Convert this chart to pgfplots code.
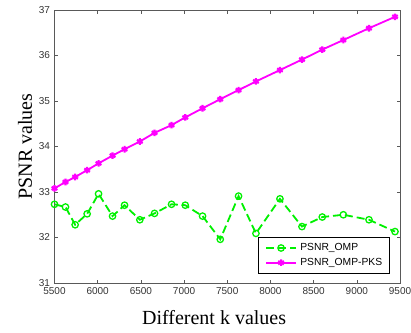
\documentclass[border=0pt]{standalone}
\usepackage{pgfplots}
\pgfplotsset{compat=1.18}
\usepackage{fontspec}
\setmainfont{Liberation Serif}
\newfontfamily\arial{Liberation Sans}
\definecolor{mgreen}{RGB}{0,240,0}
\definecolor{mmag}{RGB}{255,0,255}
\begin{document}
\begin{tikzpicture}
\begin{axis}[
  name=ax,
  scale only axis,
  width=345.5pt, height=273pt,
  xmin=5500, xmax=9500, ymin=31, ymax=37,
  xtick={5500,6000,...,9500}, ytick={31,32,...,37},
  scaled x ticks=false,
  /pgf/number format/1000 sep={},
  /pgf/number format/assume math mode=true,
  tick align=inside,
  major tick length=3.5pt,
  every tick/.style={black!65, line width=0.6pt},
  axis line style={black!65, line width=0.6pt},
  tick label style={font=\arial\fontsize{10}{12}\selectfont, text=black!80, inner sep=0pt},
  xticklabel style={yshift=-4.6pt},
  yticklabel style={xshift=-4.4pt},
  clip=false,
  xlabel={Different k values},
  ylabel={PSNR values},
  label style={font=\fontsize{20}{24}\selectfont},
  xlabel style={at={(axis description cs:0.462,-0.1537)}, anchor=base},
  ylabel style={at={(axis description cs:-0.0658,0.5)}, anchor=base},
  legend style={at={(axis description cs:0.9696,0.0330)}, anchor=south east,
    draw=black, line width=0.6pt, fill=white,
    font=\arial\fontsize{10.3}{12}\selectfont,
    inner xsep=7pt, inner ysep=6pt, row sep=4.7pt, column sep=3.4pt,
    nodes={inner sep=0pt, text height=7.5pt, text depth=2.5pt}},
  legend cell align=left,
  legend image code/.code={\draw[mark repeat=2,mark phase=2] plot coordinates {(0pt,0pt) (15pt,0pt) (30pt,0pt)};},
]
\addplot[mgreen, line width=1.8pt, dash pattern=on 8pt off 4pt,
  mark=o, mark size=3.2pt, mark options={solid, line width=1.3pt}]
  coordinates {
  (5500,32.73) (5627,32.67) (5739,32.28) (5878,32.52) (6010,32.96)
  (6172,32.47) (6311,32.71) (6488,32.39) (6658,32.53) (6855,32.73)
  (7014,32.71) (7214,32.47) (7419,31.96) (7631,32.91) (7832,32.09)
  (8110,32.85) (8365,32.24) (8600,32.45) (8844,32.50) (9141,32.39)
  (9442,32.13)};
\addlegendentry{PSNR\_OMP}
\addplot[mmag, line width=1.8pt, mark=asterisk, mark size=3.3pt,
  mark options={solid, line width=2.1pt}]
  coordinates {
  (5500,33.08) (5627,33.22) (5739,33.33) (5878,33.48) (6010,33.63)
  (6172,33.80) (6311,33.94) (6488,34.11) (6658,34.30) (6855,34.47)
  (7014,34.64) (7214,34.84) (7419,35.04) (7631,35.24) (7832,35.43)
  (8110,35.68) (8365,35.91) (8600,36.13) (8844,36.34) (9141,36.60)
  (9442,36.85)};
\addlegendentry{PSNR\_OMP-PKS}
\end{axis}
\pgfresetboundingbox
\path ([shift={(-54.5pt,-49pt)}]ax.south west) rectangle ++(411pt,332pt);
\end{tikzpicture}
\end{document}
